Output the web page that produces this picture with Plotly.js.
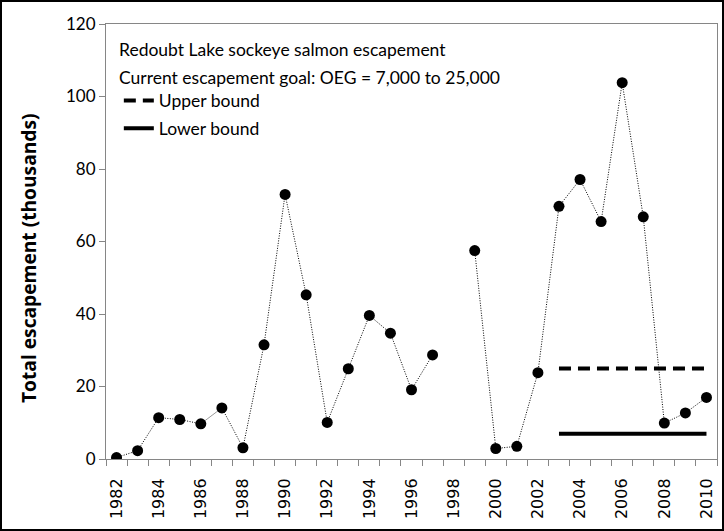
<!DOCTYPE html>
<html>
<head>
<meta charset="utf-8">
<script src="https://cdn.plot.ly/plotly-3.0.1.min.js"></script>
<style>
html,body{margin:0;padding:0;background:#fff;}
#chart{width:720px;height:527px;border:2px solid #000;}
</style>
</head>
<body>
<div id="chart"></div>
<script>
var years = [1982,1983,1984,1985,1986,1987,1988,1989,1990,1991,1992,1993,1994,1995,1996,1997,1998,1999,2000,2001,2002,2003,2004,2005,2006,2007,2008,2009,2010];
var escapement = [0.4,2.3,11.4,10.9,9.7,14.1,3.1,31.5,73.0,45.3,10.1,24.9,39.6,34.7,19.1,28.7,null,57.5,2.9,3.5,23.8,69.7,77.1,65.5,103.8,66.8,9.9,12.7,17.0];
var goalYears = [2003,2004,2005,2006,2007,2008,2009,2010];
var upperBound = [25,25,25,25,25,25,25,25];
var lowerBound = [7,7,7,7,7,7,7,7];
var tickYears = [1982,1984,1986,1988,1990,1992,1994,1996,1998,2000,2002,2004,2006,2008,2010];

var traces = [
  {x: years, y: escapement, type:'scatter', mode:'lines+markers', connectgaps:false,
   line:{color:'#000', width:1, dash:'1px,1.5px'}, marker:{color:'#000', size:11}, showlegend:false},
  {x: goalYears, y: upperBound, type:'scatter', mode:'lines', name:'Upper bound', legendgroup:'u',
   line:{color:'#000', width:4, dash:'12px,7px'}},
  {x: goalYears, y: lowerBound, type:'scatter', mode:'lines', name:'Lower bound', legendgroup:'l',
   line:{color:'#000', width:4}}
];

var layout = {
  width:720, height:527,
  margin:{l:104, r:5, t:22, b:70},
  paper_bgcolor:'#fff', plot_bgcolor:'#fff',
  showlegend:true,
  legend:{x:0.021, y:0.865, xanchor:'left', yanchor:'top', bgcolor:'rgba(0,0,0,0)',
          font:{family:'Lato', size:17.5, color:'#000'}, traceorder:'grouped', tracegroupgap:2, itemwidth:30},
  xaxis:{range:[1981.5,2010.5], tickmode:'array', tickvals:tickYears, ticktext:tickYears.map(String),
         tickangle:-90, ticks:'', showgrid:false, zeroline:false,
         showline:true, linecolor:'#868686', linewidth:1, mirror:true,
         tickfont:{family:'"DejaVu Sans", Verdana, sans-serif', size:16, color:'#000'}, ticklabelstandoff:12,
         minor:{tick0:1981.5, dtick:1, ticks:'outside', ticklen:6, tickcolor:'#868686', showgrid:false}},
  yaxis:{range:[0,120], dtick:20, ticks:'outside', ticklen:6, tickcolor:'#868686',
         showgrid:false, zeroline:false, showline:true, linecolor:'#868686', linewidth:1, mirror:true,
         tickfont:{family:'Lato', size:17, color:'#000'}},
  annotations:[
    {xref:'paper', yref:'paper', x:-0.127, y:0.463, xanchor:'center', yanchor:'middle', showarrow:false, textangle:-90,
     text:'<b>Total escapement (thousands)</b>', font:{family:'"Open Sans"', size:19.2, color:'#000'}},
    {xref:'paper', yref:'paper', x:0.018, y:0.942, xanchor:'left', yanchor:'middle', showarrow:false,
     text:'Redoubt Lake sockeye salmon escapement', font:{family:'Lato', size:17.5, color:'#000'}},
    {xref:'paper', yref:'paper', x:0.018, y:0.876, xanchor:'left', yanchor:'middle', showarrow:false,
     text:'Current escapement goal: OEG = 7,000 to 25,000', font:{family:'Lato', size:17.5, color:'#000'}}
  ]
};
Plotly.newPlot('chart', traces, layout, {displayModeBar:false, staticPlot:true});
</script>
</body>
</html>
